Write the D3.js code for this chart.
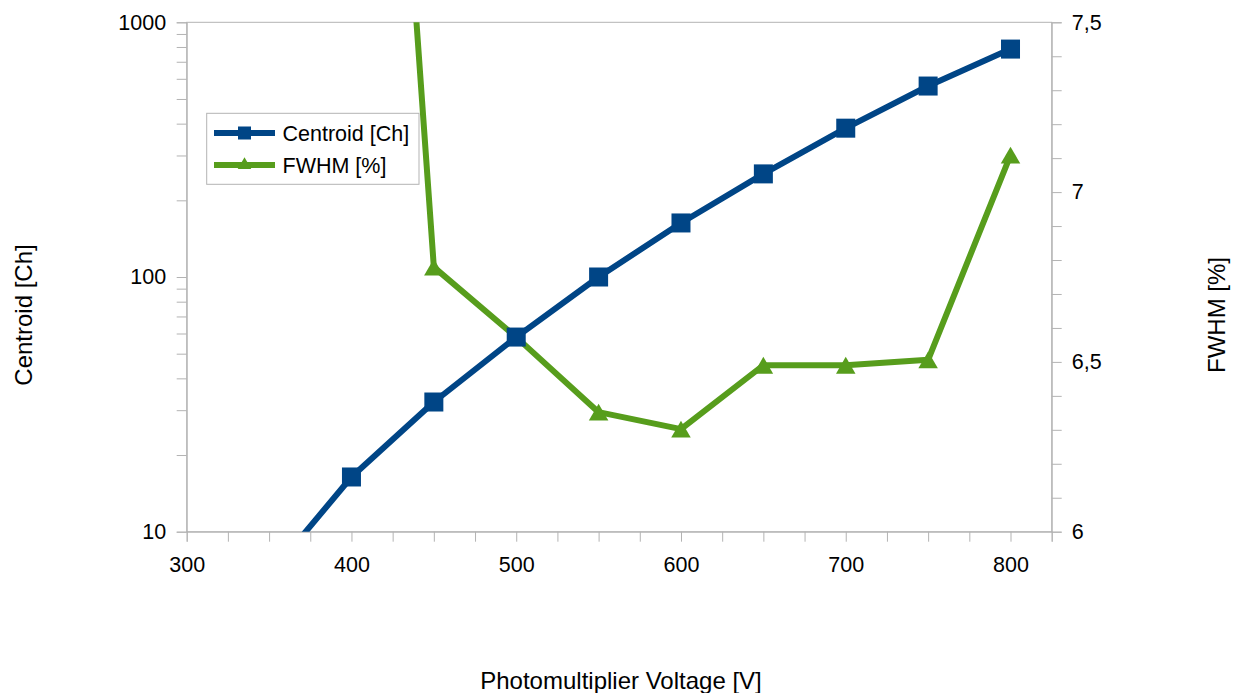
<!DOCTYPE html>
<html>
<head>
<meta charset="utf-8">
<script src="https://cdn.jsdelivr.net/npm/d3@7"></script>
<style>
  html, body { margin: 0; padding: 0; background: #fff; }
  svg { display: block; font-family: "Liberation Sans", Arial, sans-serif; }
</style>
</head>
<body>
<svg id="chart" width="1235" height="693"></svg>
<script>
// Photomultiplier voltage scan: pulse-height centroid and energy resolution
const voltages      = [350, 400, 450, 500, 550, 600, 650, 700, 750, 800];
const centroid      = [6.73, 16.4, 32.3, 58.1, 100, 163, 254, 384, 562, 785];
const fwhmVoltages  = [400, 450, 500, 550, 600, 650, 700, 750, 800];
const fwhm          = [10.2, 6.779, 6.573, 6.352, 6.302, 6.49, 6.49, 6.506, 7.109];

const xTickLabels   = [300, 400, 500, 600, 700, 800];
const yLeftLabels   = [10, 100, 1000];
const yRightLabels  = [6, 6.5, 7, 7.5];

const seriesNames   = ["Centroid [Ch]", "FWHM [%]"];
const xTitle = "Photomultiplier Voltage [V]";
const yLeftTitle = "Centroid [Ch]";
const yRightTitle = "FWHM [%]";

const blue = "#004586", green = "#579d1c", axisGrey = "#b3b3b3";
const labelSize = "21.5px", titleSize = "24px";

const svg = d3.select("#chart");
const plotL = 186.7, plotR = 1051.7, plotT = 22.3, plotB = 531.7;

const x = d3.scaleLinear().domain([300, 825]).range([plotL, plotR]);
const yL = d3.scaleLog().domain([10, 1000]).range([plotB, plotT]);
const yR = d3.scaleLinear().domain([6, 7.5]).range([plotB, plotT]);

const fmtComma = v => String(v).replace(".", ",");

// frame
svg.append("rect")
  .attr("x", plotL).attr("y", plotT)
  .attr("width", plotR - plotL).attr("height", plotB - plotT)
  .attr("fill", "none").attr("stroke", axisGrey).attr("stroke-width", 1);

// x axis: ticks every 25 V, labels every 100 V
const xAxis = d3.axisBottom(x)
  .tickValues(d3.range(300, 826, 25))
  .tickSize(10)
  .tickFormat(d => xTickLabels.includes(d) ? d : "");
const gx = svg.append("g").attr("transform", `translate(0,${plotB})`).call(xAxis);

// left log axis with minor ticks
const leftTicks = [];
for (let dec = 10; dec < 1000; dec *= 10) for (let m = 1; m < 10; m++) leftTicks.push(dec * m);
leftTicks.push(1000);
const yAxisL = d3.axisLeft(yL)
  .tickValues(leftTicks)
  .tickSize(10)
  .tickFormat(d => yLeftLabels.includes(d) ? d : "");
const gyl = svg.append("g").attr("transform", `translate(${plotL},0)`).call(yAxisL);

// right linear axis with 0.1 minor ticks
const rightTicks = d3.range(0, 16).map(i => +(6 + i * 0.1).toFixed(1));
const yAxisR = d3.axisRight(yR)
  .tickValues(rightTicks)
  .tickSize(10)
  .tickFormat(d => yRightLabels.includes(d) ? fmtComma(d) : "");
const gyr = svg.append("g").attr("transform", `translate(${plotR},0)`).call(yAxisR);

[gx, gyl, gyr].forEach(g => {
  g.select(".domain").attr("stroke", axisGrey);
  g.selectAll(".tick line").attr("stroke", axisGrey);
  g.selectAll(".tick text").attr("fill", "#000").style("font-size", labelSize)
    .style("font-family", '"Liberation Sans", Arial, sans-serif');
});
gx.selectAll(".tick text").attr("y", 40).attr("dy", 0);
gyl.selectAll(".tick text").attr("x", -20.5);
gyr.selectAll(".tick text").attr("x", 20);

// clipping to the plot area
svg.append("clipPath").attr("id", "plotClip")
  .append("rect").attr("x", plotL).attr("y", plotT)
  .attr("width", plotR - plotL).attr("height", plotB - plotT);
const plot = svg.append("g").attr("clip-path", "url(#plotClip)");

const triSize = 165;
const triH = Math.sqrt(triSize * 4 / Math.sqrt(3)) * Math.sqrt(3) / 2;
const triangle = d3.symbol().type(d3.symbolTriangle).size(triSize);

// FWHM series (secondary axis)
const fwhmData = fwhmVoltages.map((v, i) => ({ v, y: fwhm[i] }));
plot.append("path").datum(fwhmData)
  .attr("fill", "none").attr("stroke", green).attr("stroke-width", 6)
  .attr("stroke-linejoin", "round")
  .attr("d", d3.line().x(d => x(d.v)).y(d => yR(d.y)));
plot.selectAll(".tri").data(fwhmData).join("path")
  .attr("class", "tri")
  .attr("transform", d => `translate(${x(d.v)},${yR(d.y) + triH / 6})`)
  .attr("d", triangle).attr("fill", green);

// Centroid series (primary log axis)
const centData = voltages.map((v, i) => ({ v, y: centroid[i] }));
plot.append("path").datum(centData)
  .attr("fill", "none").attr("stroke", blue).attr("stroke-width", 6)
  .attr("stroke-linejoin", "round")
  .attr("d", d3.line().x(d => x(d.v)).y(d => yL(d.y)));
plot.selectAll(".sq").data(centData).join("rect")
  .attr("class", "sq")
  .attr("x", d => x(d.v) - 9.5).attr("y", d => yL(d.y) - 9.5)
  .attr("width", 19).attr("height", 19).attr("fill", blue);

// legend
const lg = svg.append("g");
lg.append("rect").attr("x", 206.7).attr("y", 113.3).attr("width", 212.3).attr("height", 71)
  .attr("fill", "#fff").attr("stroke", axisGrey).attr("stroke-width", 1);
const legendItems = [
  { name: seriesNames[0], color: blue, y: 133, marker: "sq" },
  { name: seriesNames[1], color: green, y: 165, marker: "tri" }
];
legendItems.forEach(it => {
  lg.append("line").attr("x1", 214).attr("x2", 275).attr("y1", it.y).attr("y2", it.y)
    .attr("stroke", it.color).attr("stroke-width", 6);
  if (it.marker === "sq") {
    lg.append("rect").attr("x", 244.5 - 6.5).attr("y", it.y - 6.5).attr("width", 13).attr("height", 13)
      .attr("fill", it.color);
  } else {
    lg.append("path").attr("transform", `translate(244.5,${it.y})`)
      .attr("d", d3.symbol().type(d3.symbolTriangle).size(80)).attr("fill", it.color);
  }
  lg.append("text").attr("x", 282.5).attr("y", it.y + 7.8)
    .style("font-size", labelSize).text(it.name);
});

// axis titles
svg.append("text").attr("x", 621).attr("y", 689.3)
  .attr("text-anchor", "middle").style("font-size", titleSize).text(xTitle);
svg.append("text").attr("transform", "translate(31.5,315) rotate(-90)")
  .attr("text-anchor", "middle").style("font-size", titleSize).text(yLeftTitle);
svg.append("text").attr("transform", "translate(1225,315) rotate(-90)")
  .attr("text-anchor", "middle").style("font-size", titleSize).text(yRightTitle);
</script>
</body>
</html>
